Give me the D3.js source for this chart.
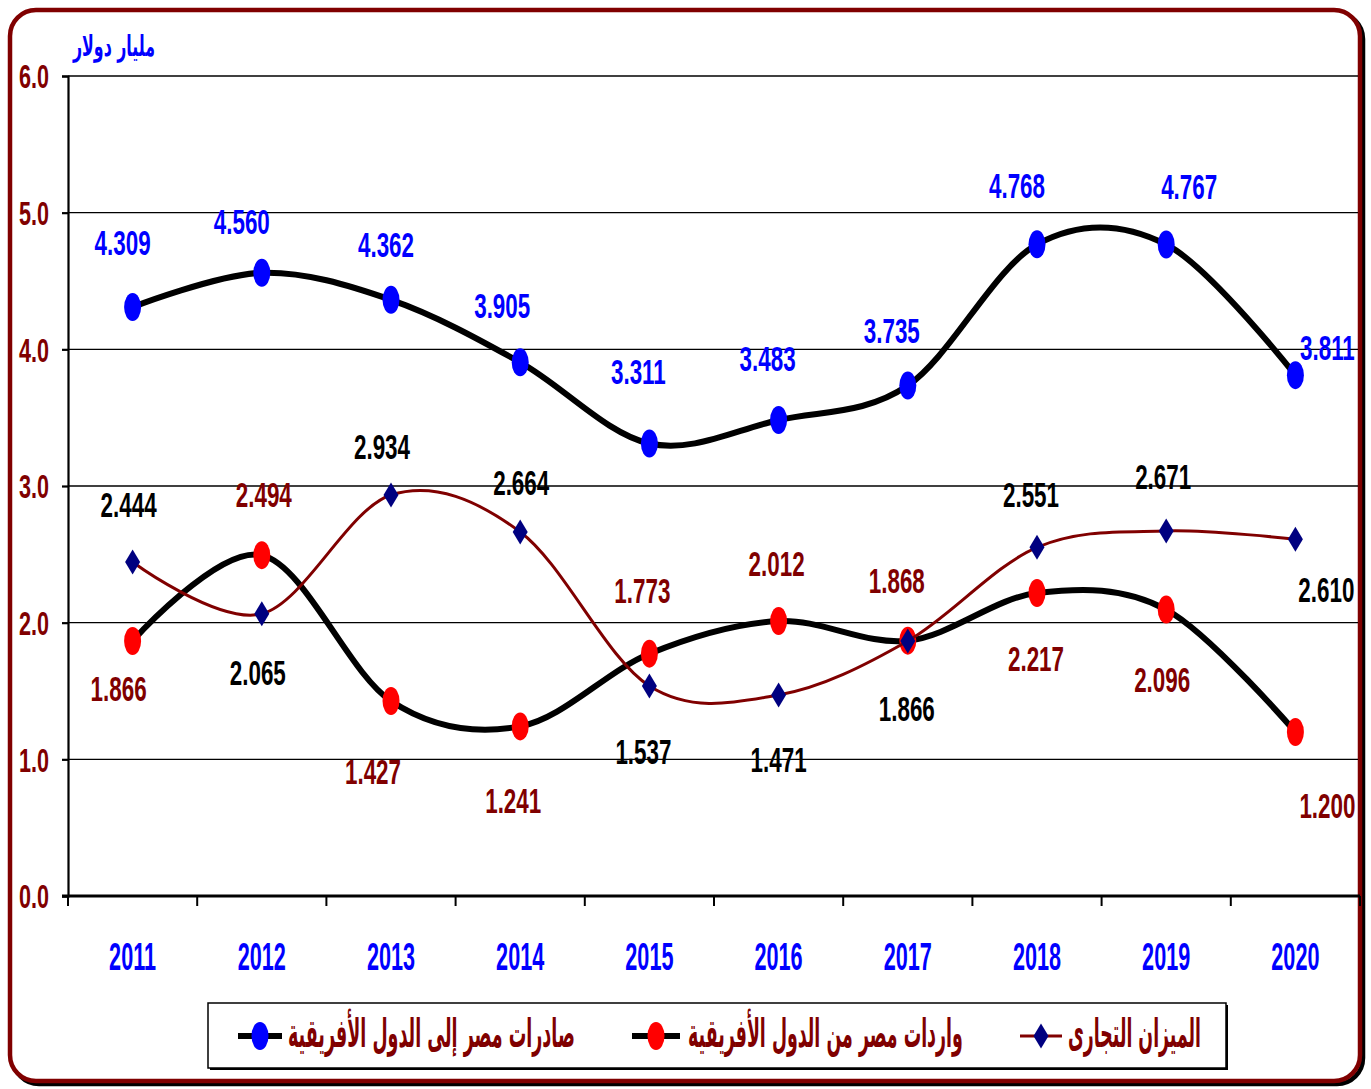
<!DOCTYPE html>
<html>
<head>
<meta charset="utf-8">
<script src="https://cdn.jsdelivr.net/npm/d3@7"></script>
<style>
  body { margin: 0; background: #fff; }
  svg { display: block; }
</style>
</head>
<body>
<script>
// data (billion dollars)
var years = ["2011", "2012", "2013", "2014", "2015", "2016", "2017", "2018", "2019", "2020"];
var exportsVals = [4.309, 4.560, 4.362, 3.905, 3.311, 3.483, 3.735, 4.768, 4.767, 3.811];
var importsVals = [1.866, 2.494, 1.427, 1.241, 1.773, 2.012, 1.868, 2.217, 2.096, 1.200];
var balanceVals = [2.444, 2.065, 2.934, 2.664, 1.537, 1.471, 1.866, 2.551, 2.671, 2.610];
var yTicks = [0, 1, 2, 3, 4, 5, 6];
var unitLabel = "مليار دولار";
var seriesNames = ["صادرات مصر إلى الدول الأفريقية", "واردات مصر من الدول الأفريقية", "الميزان التجارى"];

// where each value label sits relative to its marker (moved by hand in the original)
var exportsLabelOff = [[-10,-64],[-20,-51],[-5,-55],[-18,-56],[-11,-71],[-11,-61],[-16,-55],[-20,-58],[23,-57],[32,-27]];
var importsLabelOff = [[-14,48],[2,-60],[-18,71],[-7,75],[-7,-63],[-2,-57],[-11,-60],[-1,66],[-4,70],[32,74]];
var balanceLabelOff = [[-4,-57],[-4,59],[-9,-48],[1,-49],[-6,66],[0,65],[-1,68],[-6,-52],[-3,-54],[31,51]];

var W = 1371, H = 1089;
var plot = {left: 68, right: 1360, top: 76, bottom: 896};

var svg = d3.select("body").append("svg")
  .attr("width", W)
  .attr("height", H);

// outer frame + shadow
svg.append("rect")
  .attr("x", 13).attr("y", 13).attr("width", 1350).attr("height", 1071)
  .attr("rx", 26).attr("ry", 26)
  .attr("fill", "none").attr("stroke", "#000").attr("stroke-width", 4.5);
svg.append("rect")
  .attr("x", 10).attr("y", 10).attr("width", 1350).attr("height", 1071)
  .attr("rx", 26).attr("ry", 26)
  .attr("fill", "#fff").attr("stroke", "#800000").attr("stroke-width", 4.5);

var x = d3.scaleBand().domain(years).range([plot.left, plot.right]);
var y = d3.scaleLinear().domain([0, 6]).range([plot.bottom, plot.top]);
var cx = function(i) { return x(years[i]) + x.bandwidth() / 2; };

// squeeze text horizontally like the condensed original
function narrow(sel, sx) {
  sel.each(function() {
    var t = d3.select(this);
    var tx = +t.attr("x"), ty = +t.attr("y");
    t.attr("transform", "translate(" + tx + "," + ty + ") scale(" + sx + ",1) translate(" + (-tx) + "," + (-ty) + ")");
  });
}
function fitWidth(t, w) {
  var len = t.node().getComputedTextLength();
  var tx = +t.attr("x"), ty = +t.attr("y");
  t.attr("transform", "translate(" + tx + "," + ty + ") scale(" + (w / len) + ",1) translate(" + (-tx) + "," + (-ty) + ")");
}

// gridlines
svg.append("g")
  .selectAll("line")
  .data(yTicks.filter(function(d) { return d > 0; }))
  .enter().append("line")
  .attr("x1", plot.left).attr("x2", plot.right - 2)
  .attr("y1", function(d) { return y(d); })
  .attr("y2", function(d) { return y(d); })
  .attr("stroke", "#000").attr("stroke-width", 1.3);

// y axis
var yAxis = svg.append("g")
  .attr("transform", "translate(" + plot.left + ",0)")
  .call(d3.axisLeft(y).tickValues(yTicks).tickSize(6).tickFormat(d3.format(".1f")));
yAxis.select(".domain").attr("stroke", "#000").attr("stroke-width", 2.2);
yAxis.selectAll(".tick line").attr("stroke", "#000").attr("stroke-width", 2.2);
yAxis.selectAll(".tick text")
  .attr("x", -19).attr("dy", "0.36em")
  .attr("fill", "#800000")
  .style("font-family", "'Liberation Sans', Arial, sans-serif")
  .style("font-weight", "bold").style("font-size", "33px")
  .attr("text-anchor", "end");
yAxis.selectAll(".tick text").each(function() {
  var t = d3.select(this);
  t.attr("y", 0);
  fitWidth(t, 30);
});

// x axis: ticks on the band edges
var xg = svg.append("g");
xg.append("line")
  .attr("x1", plot.left - 6).attr("x2", plot.right)
  .attr("y1", plot.bottom).attr("y2", plot.bottom)
  .attr("stroke", "#000").attr("stroke-width", 3);
xg.selectAll(".xt")
  .data(d3.range(years.length + 1))
  .enter().append("line")
  .attr("x1", function(i) { return plot.left + i * x.bandwidth(); })
  .attr("x2", function(i) { return plot.left + i * x.bandwidth(); })
  .attr("y1", plot.bottom).attr("y2", plot.bottom + 10)
  .attr("stroke", "#000").attr("stroke-width", 2);
xg.selectAll(".yl")
  .data(years)
  .enter().append("text")
  .attr("x", function(d, i) { return cx(i); })
  .attr("y", 970)
  .attr("text-anchor", "middle")
  .attr("fill", "#0000ff")
  .style("font-family", "'Liberation Sans', Arial, sans-serif")
  .style("font-weight", "bold").style("font-size", "38px")
  .text(function(d) { return d; })
  .call(narrow, 0.57);

// unit title
var unit = svg.append("text")
  .attr("x", 114).attr("y", 56)
  .attr("text-anchor", "middle")
  .attr("fill", "#0000ff")
  .style("font-family", "'DejaVu Sans', sans-serif")
  .style("font-weight", "bold").style("font-size", "29px")
  .text(unitLabel);
fitWidth(unit, 82);

var smooth = d3.line()
  .x(function(d, i) { return cx(i); })
  .y(function(d) { return y(d); })
  .curve(d3.curveCardinal.tension(0));

function ellipses(vals, fill) {
  svg.append("g").selectAll("ellipse")
    .data(vals)
    .enter().append("ellipse")
    .attr("cx", function(d, i) { return cx(i); })
    .attr("cy", function(d) { return y(d); })
    .attr("rx", 8.5).attr("ry", 14)
    .attr("fill", fill);
}
function diamond(px, py) {
  return "M" + px + "," + (py - 12.5) + "L" + (px + 7.5) + "," + py + "L" + px + "," + (py + 12.5) + "L" + (px - 7.5) + "," + py + "Z";
}

// exports
svg.append("path").datum(exportsVals)
  .attr("d", smooth).attr("fill", "none")
  .attr("stroke", "#000").attr("stroke-width", 6).attr("stroke-linejoin", "round");
ellipses(exportsVals, "#0000ff");

// imports
svg.append("path").datum(importsVals)
  .attr("d", smooth).attr("fill", "none")
  .attr("stroke", "#000").attr("stroke-width", 6).attr("stroke-linejoin", "round");
ellipses(importsVals, "#ff0000");

// trade balance
svg.append("path").datum(balanceVals)
  .attr("d", smooth).attr("fill", "none")
  .attr("stroke", "#800000").attr("stroke-width", 3);
svg.append("g").selectAll("path")
  .data(balanceVals)
  .enter().append("path")
  .attr("d", function(d, i) { return diamond(cx(i), y(d)); })
  .attr("fill", "#000080");

// value labels
function valueLabels(vals, offs, color) {
  svg.append("g").selectAll("text")
    .data(vals)
    .enter().append("text")
    .attr("x", function(d, i) { return cx(i) + offs[i][0]; })
    .attr("y", function(d, i) { return y(d) + offs[i][1] + 12; })
    .attr("text-anchor", "middle")
    .attr("fill", color)
    .style("font-family", "'Liberation Sans', Arial, sans-serif")
    .style("font-weight", "bold").style("font-size", "35px")
    .text(function(d) { return d3.format(".3f")(d); })
    .call(narrow, 0.64);
}
valueLabels(exportsVals, exportsLabelOff, "#0000ff");
valueLabels(importsVals, importsLabelOff, "#800000");
valueLabels(balanceVals, balanceLabelOff, "#000");

// legend
var lg = svg.append("g");
lg.append("rect")
  .attr("x", 210).attr("y", 1005).attr("width", 1018).attr("height", 65)
  .attr("fill", "#000");
lg.append("rect")
  .attr("x", 208).attr("y", 1003).attr("width", 1018).attr("height", 65)
  .attr("fill", "#fff").attr("stroke", "#000").attr("stroke-width", 1.5);

var legendItems = [
  {name: seriesNames[0], line: "#000", lw: 6, marker: "#0000ff", shape: "ellipse", x0: 238, x1: 282, tx: 288, tw: 287},
  {name: seriesNames[1], line: "#000", lw: 6, marker: "#ff0000", shape: "ellipse", x0: 632, x1: 680, tx: 688, tw: 275},
  {name: seriesNames[2], line: "#800000", lw: 3, marker: "#000080", shape: "diamond", x0: 1020, x1: 1062, tx: 1068, tw: 133}
];
var ly = 1036;
legendItems.forEach(function(it) {
  lg.append("line")
    .attr("x1", it.x0).attr("x2", it.x1).attr("y1", ly).attr("y2", ly)
    .attr("stroke", it.line).attr("stroke-width", it.lw);
  var mx = (it.x0 + it.x1) / 2;
  if (it.shape == "ellipse") {
    lg.append("ellipse").attr("cx", mx).attr("cy", ly).attr("rx", 8.5).attr("ry", 14).attr("fill", it.marker);
  } else {
    lg.append("path").attr("d", diamond(mx, ly)).attr("fill", it.marker);
  }
  var t = lg.append("text")
    .attr("x", it.tx).attr("y", ly + 11)
    .attr("text-anchor", "start")
    .attr("direction", "ltr")
    .attr("fill", "#800000")
    .style("font-family", "'DejaVu Sans', sans-serif")
    .style("font-weight", "bold").style("font-size", "40px")
    .text(it.name);
  fitWidth(t, it.tw);
});
</script>
</body>
</html>
